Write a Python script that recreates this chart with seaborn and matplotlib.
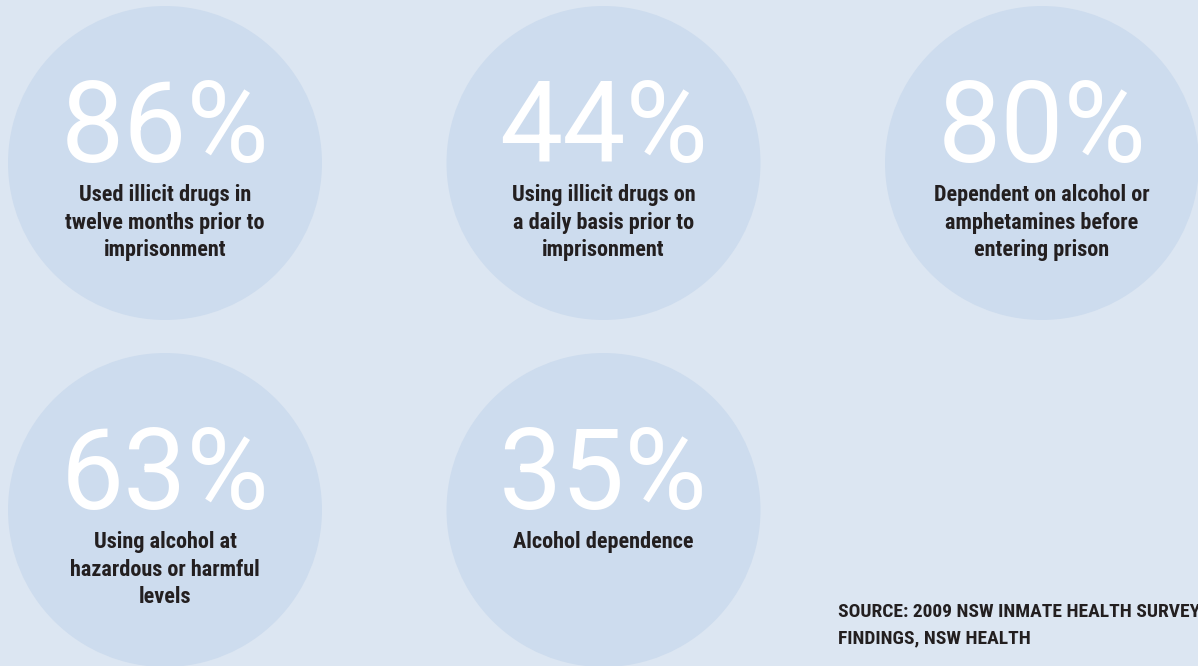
import matplotlib
matplotlib.use("Agg")
import matplotlib.pyplot as plt
from matplotlib.patches import Circle
import seaborn as sns

# ---- data ----
values = [86, 44, 80, 63, 35]
descriptions = [
    "Used illicit drugs in\ntwelve months prior to\nimprisonment",
    "Using illicit drugs on\na daily basis prior to\nimprisonment",
    "Dependent on alcohol or\namphetamines before\nentering prison",
    "Using alcohol at\nhazardous or harmful\nlevels",
    "Alcohol dependence",
]
source_lines = ["SOURCE: 2009 NSW INMATE HEALTH SURVEY", "FINDINGS, NSW HEALTH"]

# ---- style ----
sns.set_theme(style="white")
fams = ["Liberation Sans Narrow", "Roboto Condensed", "Roboto", "DejaVu Sans"]
plt.rcParams["font.family"] = fams

BG = "#dce6f2"
CIRCLE = "#cddcee"
TXT = "#231f20"

W, H = 1198, 666
fig = plt.figure(figsize=(W / 100, H / 100), dpi=100, facecolor=BG)
ax = fig.add_axes([0, 0, 1, 1])
ax.set_facecolor(BG)
ax.set_xlim(0, W)
ax.set_ylim(H, 0)
ax.set_axis_off()

x0, dx = 165, 438.5
y0, dy = 163, 347
R = 157

for i, (v, d) in enumerate(zip(values, descriptions)):
    col, row = i % 3, i // 3
    cx, cy = x0 + col * dx, y0 + row * dy
    ax.add_patch(Circle((cx, cy), R, facecolor=CIRCLE, edgecolor="none", zorder=1))
    ax.text(cx, cy - 1, f"{v}%", ha="center", va="baseline", color="white",
            fontsize=81, fontweight="normal", family=["Roboto", "DejaVu Sans"], zorder=2)
    for k, line in enumerate(d.split("\n")):
        ax.text(cx, cy + 38 + k * 27.5, line, ha="center", va="baseline",
                color=TXT, fontsize=16, fontweight="bold", zorder=2)

for k, line in enumerate(source_lines):
    ax.text(838, 617 + k * 26.5, line, ha="left", va="baseline", color=TXT,
            fontsize=14, fontweight="bold", zorder=2)

fig.savefig("out.png", dpi=100, facecolor=BG)
